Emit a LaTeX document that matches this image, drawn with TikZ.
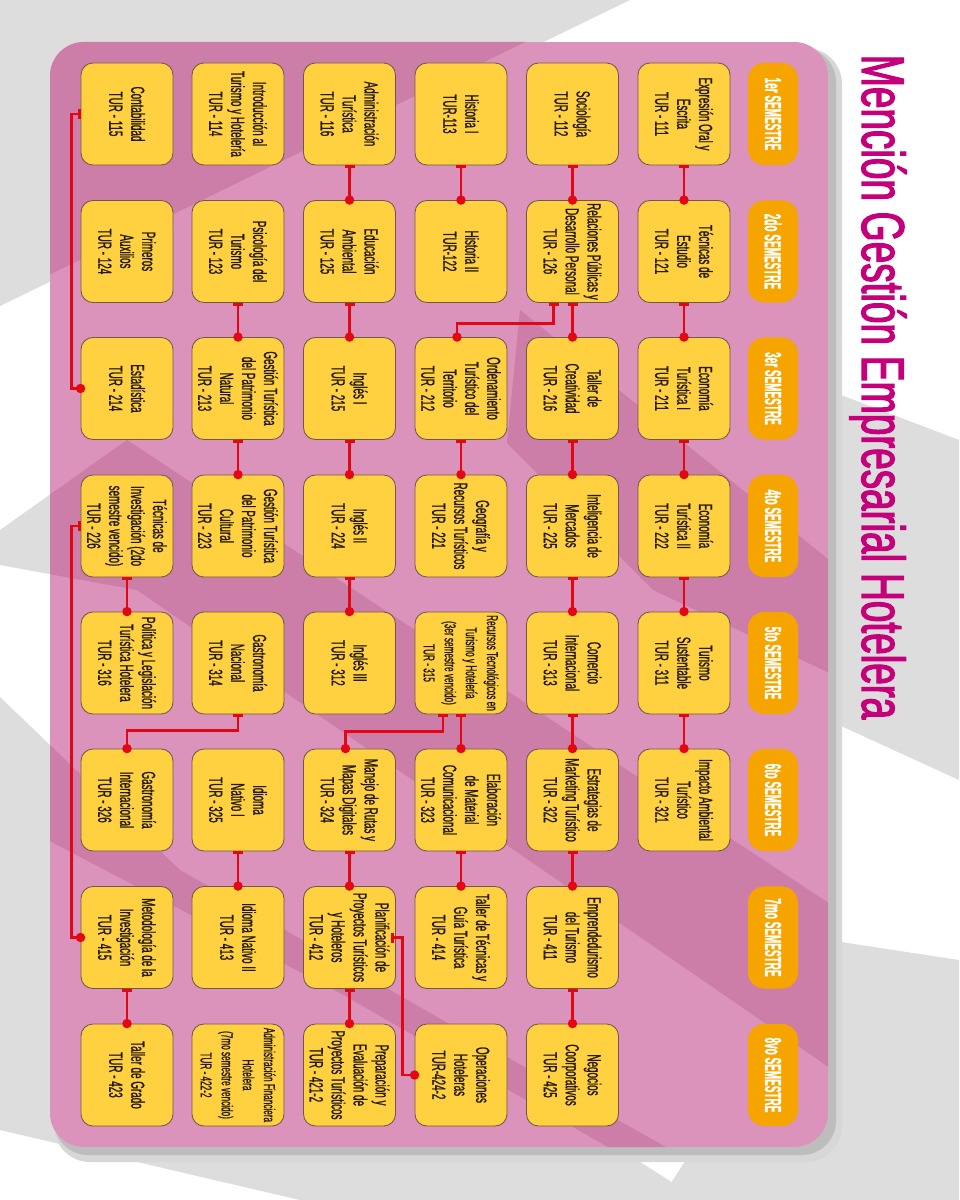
\documentclass[tikz,border=0pt]{standalone}
\usepackage{fontspec}
\setmainfont{Liberation Sans}[FakeStretch=0.52, FakeBold=1.0]
\newfontfamily\mgtitlefont{Liberation Sans}[FakeStretch=0.64, FakeBold=2.0]
\newfontfamily\mgsemfont{Liberation Sans}[FakeStretch=0.43, FakeBold=1.0]
\usepackage{tikz}
\usetikzlibrary{arrows.meta, calc}
\definecolor{MGpink}{HTML}{DB92BB}
\definecolor{MGpinkD}{HTML}{CC7DA8}
\definecolor{MGgray}{HTML}{DDDDDD}
\definecolor{MGshadow}{HTML}{BDBDBD}
\definecolor{MGyellow}{HTML}{FFD040}
\definecolor{MGorange}{HTML}{F6A500}
\definecolor{MGred}{HTML}{E30613}
\definecolor{MGmag}{HTML}{C4007A}
\definecolor{MGink}{HTML}{241A12}
\definecolor{MGedge}{HTML}{6B5A48}
\tikzset{
  mgbox/.style={
    rectangle, rounded corners=0.3cm, draw=MGedge, line width=0.6pt,
    fill=MGyellow, text=MGink, align=center, rotate=-90, inner sep=1pt,
    minimum width=2.55cm, minimum height=2.3cm,
    font=\fontsize{13.5}{15.6}\selectfont},
  mgsmall/.style={mgbox, font=\fontsize{11.2}{15}\selectfont},
  mgsem/.style={
    rectangle, rounded corners=0.4cm, fill=MGorange, text=white, rotate=-90,
    minimum width=2.55cm, minimum height=1.25cm, inner sep=1pt,
    font=\mgsemfont\fontsize{16.5}{18}\bfseries\selectfont},
  mglink/.style={{Bar[width=2.5mm]}-{Circle[length=2.3mm]}, line width=2.1pt,
    draw=MGred, shorten >=-1.15mm},
  mgband/.style={fill=MGpinkD},
}

\begin{document}
\begin{tikzpicture}[x=0.025cm, y=-0.025cm]
  \useasboundingbox (0,0) rectangle (959,1200);
  \fill[white] (0,0) rectangle (959,1200);
  % background stripes
  \fill[MGgray] (0,0) -- (630,0) -- (0,306) -- cycle;
  \fill[MGgray] (828,390) -- (959,440) -- (959,780) -- (828,720) -- cycle;
  \fill[MGgray] (0,530) -- (127,440) -- (600,760) -- (600,900) -- (137,590) -- (0,565) -- cycle;
  \fill[MGgray] (828,940) -- (959,960) -- (959,1200) -- (660,1200) -- cycle;
  \fill[MGgray] (0,697) -- (180,870) -- (700,1200) -- (300,1200) -- (0,1130) -- cycle;
  % panel
  \fill[MGshadow!60, rounded corners=0.9cm] (54,48) rectangle (842,1162);
  \fill[MGshadow, rounded corners=0.85cm] (54,48) rectangle (836,1155);
  \begin{scope}
    \clip[rounded corners=0.85cm] (50,42) rectangle (828,1147);
    \fill[MGpink] (50,42) rectangle (828,1147);
    \fill[mgband] (0,0) -- (611,0) -- (0,299) -- cycle;
    \fill[mgband] (520,310) -- (959,665) -- (959,734) -- (653,590) -- (507,443) -- cycle;
    \fill[mgband] (0,530) -- (127,440) -- (959,989) -- (959,1157) -- (137,590) -- (0,565) -- cycle;
    \fill[mgband] (0,697) -- (180,870) -- (600,1110) -- (760,1200) -- (700,1200) -- (340,993) -- (0,815) -- cycle;
  \end{scope}

  \node[rotate=-90, anchor=base, text=MGmag, font=\mgtitlefont\fontsize{43}{48}\selectfont]
    (title) at (862,387) {Mención Gestión Empresarial Hotelera};

  % semesters
  \node[mgsem] (s1) at (773,114) {1er SEMESTRE};
  \node[mgsem] (s2) at (773,251.5) {2do SEMESTRE};
  \node[mgsem] (s3) at (773,388.5) {3er SEMESTRE};
  \node[mgsem] (s4) at (773,526) {4to SEMESTRE};
  \node[mgsem] (s5) at (773,663) {5to SEMESTRE};
  \node[mgsem] (s6) at (773,800) {6to SEMESTRE};
  \node[mgsem] (s7) at (773,937.5) {7mo SEMESTRE};
  \node[mgsem] (s8) at (773,1075) {8vo SEMESTRE};

  % first row of subjects
  \node[mgbox] (t111) at (684,114) {Expresión Oral y\\Escrita\\TUR - 111};
  \node[mgbox] (t121) at (684,251.5) {Técnicas de\\Estudio\\TUR - 121};
  \node[mgbox] (t211) at (684,388.5) {Economía\\Turística I\\TUR - 211};
  \node[mgbox] (t222) at (684,526) {Economía\\Turística II\\TUR - 222};
  \node[mgbox] (t311) at (684,663) {Turismo\\Sustentable\\TUR - 311};
  \node[mgbox] (t321) at (684,800) {Impacto Ambiental\\Turístico\\TUR - 321};

  \node[mgbox] (t112) at (572.5,114) {Sociología\\TUR - 112};
  \node[mgbox] (t126) at (572.5,251.5) {Relaciones Públicas y\\Desarrollo Personal\\TUR - 126};
  \node[mgbox] (t216) at (572.5,388.5) {Taller de\\Creatividad\\TUR - 216};
  \node[mgbox] (t225) at (572.5,526) {Inteligencia de\\Mercados\\TUR - 225};
  \node[mgbox] (t313) at (572.5,663) {Comercio\\Internacional\\TUR - 313};
  \node[mgbox] (t322) at (572.5,800) {Estrategias de\\Marketing Turístico\\TUR - 322};
  \node[mgbox] (t411) at (572.5,937.5) {Emprendedurismo\\del Turismo\\TUR - 411};
  \node[mgbox] (t425) at (572.5,1075) {Negocios\\Coorporativos\\TUR - 425};

  \node[mgbox] (t113) at (461,114) {Historia I\\TUR-113};
  \node[mgbox] (t122) at (461,251.5) {Historia II\\TUR-122};
  \node[mgbox] (t212) at (461,388.5) {Ordenamiento\\Turístico del\\Territorio\\TUR - 212};
  \node[mgbox] (t221) at (461,526) {Geografía y\\Recursos Turísticos\\TUR - 221};
  \node[mgsmall] (t315) at (461,663) {Recursos Tecnológicos en\\Turismo y Hotelería\\(3er semestre vencido)\\TUR - 315};
  \node[mgbox] (t323) at (461,800) {Elaboración\\de Material\\Comunicacional\\TUR - 323};
  \node[mgbox] (t414) at (461,937.5) {Taller de Técnicas y\\Guía Turística\\TUR - 414};
  \node[mgbox] (t4242) at (461,1075) {Operaciones\\Hoteleras\\TUR-424-2};

  \node[mgbox] (t116) at (349.5,114) {Administración\\Turística\\TUR - 116};
  \node[mgbox] (t125) at (349.5,251.5) {Educación\\Ambiental\\TUR - 125};
  \node[mgbox] (t215) at (349.5,388.5) {Inglés I\\TUR - 215};
  \node[mgbox] (t224) at (349.5,526) {Inglés II\\TUR - 224};
  \node[mgbox] (t312) at (349.5,663) {Inglés III\\TUR - 312};
  \node[mgbox] (t324) at (349.5,800) {Manejo de Rutas y\\Mapas Digitales\\TUR - 324};
  \node[mgbox] (t412) at (349.5,937.5) {Planificación de\\Proyectos Turísticos\\y Hoteleros\\TUR - 412};
  \node[mgbox] (t4212) at (349.5,1075) {Preparación y\\Evaluación de\\Proyectos Turísticos\\TUR - 421-2};

  \node[mgbox] (t114) at (238,114) {Introducción al\\Turismo y Hotelería\\TUR - 114};
  \node[mgbox] (t123) at (238,251.5) {Psicología del\\Turismo\\TUR - 123};
  \node[mgbox] (t213) at (238,388.5) {Gestión Turística\\del Patrimonio\\Natural\\TUR - 213};
  \node[mgbox] (t223) at (238,526) {Gestión Turística\\del Patrimonio\\Cultural\\TUR - 223};
  \node[mgbox] (t314) at (238,663) {Gastronomía\\Nacional\\TUR - 314};
  \node[mgbox] (t325) at (238,800) {Idioma\\Nativo I\\TUR - 325};
  \node[mgbox] (t413) at (238,937.5) {Idioma Nativo II\\TUR - 413};
  \node[mgsmall] (t4222) at (238,1075) {Administración Financiera\\Hotelera\\(7mo semestre vencido)\\TUR - 422-2};

  \node[mgbox] (t115) at (127,114) {Contabilidad\\TUR - 115};
  \node[mgbox] (t124) at (127,251.5) {Primeros\\Auxilios\\TUR - 124};
  \node[mgbox] (t214) at (127,388.5) {Estadística\\TUR - 214};
  \node[mgbox] (t226) at (127,526) {Técnicas de\\Investigación (2do\\semestre vencido)\\TUR - 226};
  \node[mgbox] (t316) at (127,663) {Política y Legislación\\Turística Hotelera\\TUR - 316};
  \node[mgbox] (t326) at (127,800) {Gastronomía\\Internacional\\TUR - 326};
  \node[mgbox] (t415) at (127,937.5) {Metodología de la\\Investigación\\TUR - 415};
  \node[mgbox] (t423) at (127,1075) {Taller de Grado\\TUR - 423};

  % prerequisites
  \draw[mglink] (t111) -- (t121); \draw[mglink] (t121) -- (t211);
  \draw[mglink] (t211) -- (t222); \draw[mglink] (t222) -- (t311);
  \draw[mglink] (t311) -- (t321);
  \draw[mglink] (t112) -- (t126); \draw[mglink] (t126) -- (t216);
  \draw[mglink] (t216) -- (t225); \draw[mglink] (t225) -- (t313);
  \draw[mglink] (t313) -- (t322); \draw[mglink] (t322) -- (t411);
  \draw[mglink] (t411) -- (t425);
  \draw[mglink] (t113) -- (t122); \draw[mglink] (t212) -- (t221);
  \draw[mglink] (t315) -- (t323); \draw[mglink] (t323) -- (t414);
  \draw[mglink] (t116) -- (t125); \draw[mglink] (t125) -- (t215);
  \draw[mglink] (t215) -- (t224); \draw[mglink] (t224) -- (t312);
  \draw[mglink] (t324) -- (t412); \draw[mglink] (t412) -- (t4212);
  \draw[mglink] (t123) -- (t213); \draw[mglink] (t213) -- (t223);
  \draw[mglink] (t325) -- (t413);
  \draw[mglink] (t226) -- (t316); \draw[mglink] (t415) -- (t423);
  \draw[mglink] ($(t126.east)+(-19,0)$) -- ++(0,21) -| ($(t212.west)+(-4,0)$);
  \draw[mglink] ($(t315.east)+(-18,0)$) -- ++(0,17) -| ($(t324.west)+(-4,0)$);
  \draw[mglink] (t314.east) -- ++(0,16) -| (t326.west);
  \draw[mglink] (t115.south) -- ++(-9,0) |- (t214.south);
  \draw[mglink] (t226.south) -- ++(-9,0) |- (t415.south);
  \draw[mglink] ($(t412.north)+(-5,0)$) -- ++(12,0) |- (t4242.south);
\end{tikzpicture}
\end{document}
